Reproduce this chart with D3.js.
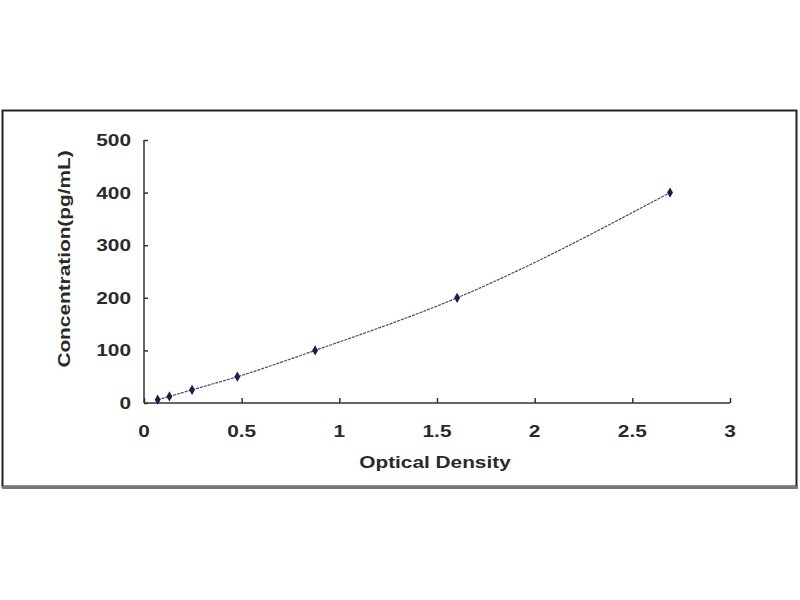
<!DOCTYPE html>
<html>
<head>
<meta charset="utf-8">
<script src="https://cdn.jsdelivr.net/npm/d3@7"></script>
<style>
  body { margin: 0; background: #fff; }
  svg text { font-family: "Liberation Sans", Arial, sans-serif; font-weight: bold; fill: #2a2a2a; }
</style>
</head>
<body>
<svg id="chart" width="800" height="600"></svg>
<script>
// standard curve values
var od = [0.07, 0.13, 0.246, 0.478, 0.876, 1.603, 2.693];
var conc = [6.25, 12.5, 25, 50, 100, 200, 400];
var xTicks = [0, 0.5, 1, 1.5, 2, 2.5, 3];
var yTicks = [0, 100, 200, 300, 400, 500];

var svg = d3.select("#chart");

// outer frame
svg.append("rect")
  .attr("x", 2.5).attr("y", 110.5)
  .attr("width", 794).attr("height", 376)
  .attr("fill", "#fff")
  .attr("stroke", "#222").attr("stroke-width", 2);
svg.append("line")
  .attr("x1", 2).attr("x2", 798).attr("y1", 487.5).attr("y2", 487.5)
  .attr("stroke", "#777").attr("stroke-width", 3);

var x = d3.scaleLinear().domain([0, 3]).range([144, 730]);
var y = d3.scaleLinear().domain([0, 500]).range([403, 140]);

var g = svg.append("g");

// x axis, ticks point up
var xAxis = g.append("g")
  .attr("transform", "translate(0," + y(0) + ")")
  .call(d3.axisTop(x).tickValues(xTicks).tickSize(5).tickFormat(d3.format("")));
xAxis.selectAll("text").remove();
xAxis.select(".domain").attr("stroke", "#333").attr("stroke-width", 1.5)
  .attr("d", "M" + x(0) + ",0H" + x(3));
xAxis.selectAll(".tick line").attr("stroke", "#333").attr("stroke-width", 1.5);

g.selectAll(".xlab")
  .data(xTicks)
  .enter().append("text")
  .attr("class", "xlab wide")
  .attr("x", function (d) { return x(d); })
  .attr("y", y(0) + 34)
  .attr("text-anchor", "middle")
  .attr("font-size", 16)
  .text(function (d) { return d; });

// y axis, ticks point right
var yAxis = g.append("g")
  .attr("transform", "translate(" + x(0) + ",0)")
  .call(d3.axisRight(y).tickValues(yTicks).tickSize(4));
yAxis.selectAll("text").remove();
yAxis.select(".domain").attr("stroke", "#333").attr("stroke-width", 1.5)
  .attr("d", "M0," + y(0) + "V" + y(500));
yAxis.selectAll(".tick line").attr("stroke", "#333").attr("stroke-width", 1.5);

g.selectAll(".ylab")
  .data(yTicks)
  .enter().append("text")
  .attr("class", "ylab wide")
  .attr("x", 131)
  .attr("y", function (d) { return y(d) + 6; })
  .attr("text-anchor", "end")
  .attr("font-size", 16)
  .text(function (d) { return d; });

// axis titles
svg.append("text")
  .attr("class", "wide")
  .attr("x", 435).attr("y", 468)
  .attr("text-anchor", "middle")
  .attr("font-size", 16)
  .text("Optical Density");

svg.append("text")
  .attr("class", "wide")
  .attr("transform", "translate(70,259) rotate(-90)")
  .attr("text-anchor", "middle")
  .attr("font-size", 16)
  .text("Concentration(pg/mL)");

// the source text is set wider than Arial bold
svg.selectAll("text.wide").each(function () {
  var w = this.getComputedTextLength();
  d3.select(this).attr("textLength", w * 1.3).attr("lengthAdjust", "spacingAndGlyphs");
});

// fitted curve
var pts = od.map(function (d, i) { return [d, conc[i]]; });
var line = d3.line()
  .x(function (d) { return x(d[0]); })
  .y(function (d) { return y(d[1]); })
  .curve(d3.curveMonotoneX);

g.append("path")
  .datum(pts)
  .attr("d", line)
  .attr("fill", "none")
  .attr("stroke", "#4a4a6a")
  .attr("stroke-width", 1.2)
  .attr("stroke-dasharray", "3,1");

// standard points
g.selectAll(".pt")
  .data(pts)
  .enter().append("path")
  .attr("class", "pt")
  .attr("transform", function (d) { return "translate(" + x(d[0]) + "," + y(d[1]) + ")"; })
  .attr("d", d3.symbol().type(d3.symbolDiamond).size(30))
  .attr("fill", "#1c1c50");
</script>
</body>
</html>
